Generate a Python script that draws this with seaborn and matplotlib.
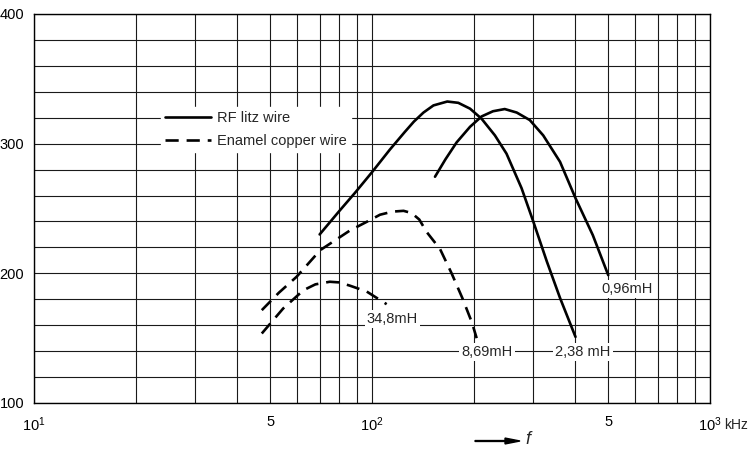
import numpy as np
import pandas as pd
import matplotlib
matplotlib.use('Agg')
import matplotlib.pyplot as plt
from matplotlib.ticker import FixedLocator, NullFormatter
from matplotlib.lines import Line2D
from matplotlib.patches import FancyArrow
import seaborn as sns

sns.set_theme(style='white')
plt.rcParams['font.family'] = ['Liberation Sans', 'DejaVu Sans']
plt.rcParams['mathtext.fontset'] = 'custom'
plt.rcParams['mathtext.rm'] = 'Liberation Sans'
plt.rcParams['mathtext.it'] = 'Liberation Sans:italic'
plt.rcParams['mathtext.default'] = 'regular'

# --- Data (f in kHz, Q) ---
f_238 = [70, 80, 89, 100, 113, 125, 133, 142, 152, 167, 180, 195, 211, 231, 250, 277, 300, 329, 360, 400]
q_238 = [230, 248, 262, 278, 295.5, 309, 317, 324, 329.5, 332.5, 331.5, 327, 319.2, 306.4, 292.3, 265.7, 240, 209.2, 181, 151]

f_096 = [153.6, 165, 178, 195, 211, 228, 247, 268, 293, 321, 360, 400, 450, 500]
q_096 = [274.5, 288, 301, 313, 321, 325, 326.7, 324, 318.2, 306.4, 286, 258, 229.5, 198.6]

f_869 = [47.2, 53, 59.8, 70.3, 86, 98.6, 105.6, 115, 124, 131, 138, 145, 159, 172, 185, 197.6, 204]
q_869 = [171.6, 185, 197.3, 217.9, 233, 241, 245.2, 247.6, 248.2, 246.5, 241.5, 232, 218.7, 200, 181, 162, 150]

f_348 = [47.2, 54.6, 62.7, 68, 75, 80, 86, 96.4, 110.5]
q_348 = [153.6, 172.9, 187, 191.5, 193.5, 193, 190.5, 186, 176.2]

curve_wire = ['RF litz wire', 'RF litz wire', 'Enamel copper wire', 'Enamel copper wire']

xtick_vals = [10, 50, 100, 500, 1000]
xtick_labels = ['$10^1$', '5', '$10^2$', '5', '$10^3$']
ytick_vals = [100, 200, 300, 400]

# --- Figure ---
fig = plt.figure(figsize=(7.49, 4.54), dpi=100)
ax = fig.add_axes([34 / 749, 1 - 403 / 454, 676 / 749, 389 / 454])

lw = 1.9
dash = (5, 3)
series = [(f_238, q_238), (f_096, q_096), (f_869, q_869), (f_348, q_348)]
for (fx, qy), wire in zip(series, curve_wire):
    df = pd.DataFrame({'f': fx, 'Q': qy})
    ls = '-' if wire == 'RF litz wire' else '--'
    sns.lineplot(data=df, x='f', y='Q', ax=ax, sort=False, color='black',
                 lw=lw, linestyle=ls, zorder=3)
for line in ax.get_lines():
    if line.get_linestyle() == '--':
        line.set_dashes(dash)

ax.set_xscale('log')
ax.set_xlim(10, 1000)
ax.set_ylim(100, 400)

ax.xaxis.set_major_locator(FixedLocator(xtick_vals))
ax.set_xticklabels(xtick_labels)
minor_x = [v * d for d in (10, 100) for v in range(2, 10) if v != 5]
ax.xaxis.set_minor_locator(FixedLocator(minor_x))
ax.xaxis.set_minor_formatter(NullFormatter())
ax.set_yticks(ytick_vals)
ax.set_yticks(np.arange(120, 400, 20), minor=True)

ax.grid(True, which='both', color='#1a1a1a', lw=0.8)
ax.tick_params(which='both', length=0, labelsize=10.5, colors='black')
ax.tick_params(axis='x', pad=9)
ax.tick_params(axis='y', pad=7)
for s in ax.spines.values():
    s.set_color('black')
    s.set_linewidth(1.0)
ax.set_xlabel('')
ax.set_ylabel('')

fig.text(736 / 749, 1 - 425 / 454, 'kHz', ha='center', va='center', fontsize=10)

# legend
handles = [Line2D([], [], color='black', lw=lw),
           Line2D([], [], color='black', lw=lw, linestyle='--', dashes=dash)]
leg = ax.legend(handles, ['RF litz wire', 'Enamel copper wire'],
                loc='upper left', bbox_to_anchor=(0.188, 0.762),
                frameon=True, fancybox=False, framealpha=1, edgecolor='white',
                facecolor='white', fontsize=10.5, handlelength=3.1,
                handletextpad=0.45, labelspacing=0.6, borderpad=0.3,
                borderaxespad=0)
leg.set_zorder(4)

# curve labels
box = dict(facecolor='white', edgecolor='none', pad=1.5)
ax.text(115, 164.6, '34,8mH', ha='center', va='center', fontsize=10.5, bbox=box, zorder=4)
ax.text(219, 139.5, '8,69mH', ha='center', va='center', fontsize=10.5, bbox=box, zorder=4)
ax.text(421, 139.5, '2,38 mH', ha='center', va='center', fontsize=10.5, bbox=box, zorder=4)
ax.text(568, 187.7, '0,96mH', ha='center', va='center', fontsize=10.5, bbox=box, zorder=4)

# frequency arrow
fig.patches.append(FancyArrow(
    475 / 749, 1 - 441 / 454, 45 / 749, 0, width=0.002, head_width=0.013,
    head_length=0.02, length_includes_head=True, color='black',
    transform=fig.transFigure, figure=fig))
fig.text(528 / 749, 1 - 440 / 454, 'f', ha='center', va='center',
         fontsize=13, style='italic')

fig.savefig('out.png', dpi=100)
